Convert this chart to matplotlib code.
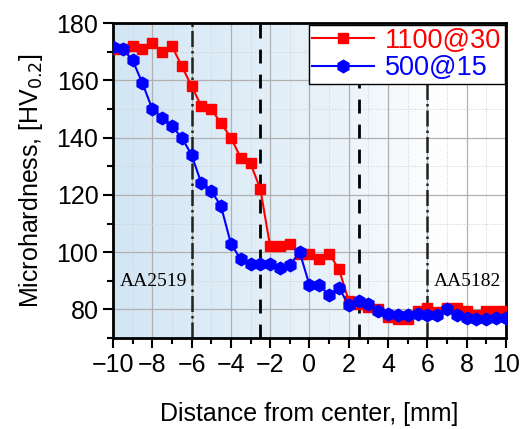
import numpy as np
import matplotlib
matplotlib.use("Agg")
import matplotlib.pyplot as plt
from matplotlib.colors import LinearSegmentedColormap
from matplotlib.ticker import MultipleLocator

distance = [-10, -9.5, -9, -8.5, -8, -7.5, -7, -6.5, -6, -5.5, -5, -4.5, -4, -3.5, -3,
            -2.5, -2, -1.5, -1, -0.5, 0, 0.5, 1, 1.5, 2, 2.5, 3, 3.5, 4, 4.5, 5,
            5.5, 6, 6.5, 7, 7.5, 8, 8.5, 9, 9.5, 10]
hv_1100_30 = [171, 171, 172, 171, 173, 170, 172, 165, 158, 151, 150, 145, 140, 133, 131,
              122, 102, 102, 103, 99.5, 99.5, 97.5, 99.5, 94, 83, 82, 81, 80, 77.5, 76.5, 76.5,
              79.5, 80.5, 79, 80.5, 80.5, 79.5, 78, 79.5, 79.5, 79.5]
hv_500_15 = [171.5, 171, 167, 159, 150, 147, 144, 140, 134, 124, 121.5, 116, 103, 97.5, 96,
             96, 96, 94.5, 95.5, 100, 88.5, 88.5, 85, 87.5, 81.5, 83, 82, 79.5, 78.5, 78, 78,
             78.5, 78, 78, 80, 78, 77, 76.5, 76.5, 77, 77]
series_labels = ["1100@30", "500@15"]
material_labels = ["AA2519", "AA5182"]
xticks = [-10, -8, -6, -4, -2, 0, 2, 4, 6, 8, 10]
yticks = [80, 100, 120, 140, 160, 180]

plt.rcParams['font.family'] = ['Liberation Sans', 'DejaVu Sans']

fig = plt.figure(figsize=(5.2, 4.29), dpi=100)
ax = fig.add_axes([0.2173, 0.212, 0.7557, 0.734])

# background gradient
cmap = LinearSegmentedColormap.from_list("bg", [(0.0, "#d3e6f4"), (0.55, "#e8f2fa"), (0.85, "#ffffff"), (1.0, "#ffffff")])
grad = np.linspace(0, 1, 256).reshape(1, -1)
ax.imshow(grad, extent=[-10, 10, 70, 180], aspect='auto', cmap=cmap, zorder=0)

ax.set_xlim(-10, 10)
ax.set_ylim(70, 180)
ax.set_xticks(xticks)
ax.set_yticks(yticks)
ax.xaxis.set_minor_locator(MultipleLocator(1))
ax.yaxis.set_minor_locator(MultipleLocator(10))
ax.grid(which='major', color='#b0b0b0', linewidth=0.9, zorder=1)
ax.grid(which='minor', color='#d0d0d0', linewidth=0.7, linestyle=':', zorder=1)
ax.set_axisbelow(True)

for xv in (-6, 6):
    ax.axvline(xv, color='#222222', linestyle='-.', linewidth=1.8, zorder=2)
for xv in (-2.5, 2.5):
    ax.axvline(xv, color='black', linestyle=(0, (5, 4)), linewidth=2, zorder=2)

ax.plot(distance, hv_1100_30, color='#ff0000', marker='s', markersize=7.5, linewidth=1.5,
        label=series_labels[0], zorder=3)
ax.plot(distance, hv_500_15, color='#0000ff', marker='h', markersize=9, linewidth=1.5,
        label=series_labels[1], zorder=4)

ax.text(-9.65, 89.8, material_labels[0], family=['Liberation Serif'], fontsize=14,
        va='center', ha='left', zorder=5)
ax.text(6.35, 89.8, material_labels[1], family=['Liberation Serif'], fontsize=14,
        va='center', ha='left', zorder=5)

leg = ax.legend(loc='upper right', fontsize=19.5, frameon=True, fancybox=False,
                edgecolor='black', framealpha=1, handlelength=2.3, borderpad=0.12,
                labelspacing=0.05, handletextpad=0.4, borderaxespad=0.05)
leg.get_frame().set_linewidth(1.0)
for txt, c in zip(leg.get_texts(), ['#ff0000', '#0000ff']):
    txt.set_color(c)

ax.tick_params(which='major', direction='out', length=7, width=1.5, labelsize=18)
ax.tick_params(which='minor', direction='out', length=4, width=1.5)
for sp in ax.spines.values():
    sp.set_linewidth(2)

ax.set_xlabel("Distance from center, [mm]", fontsize=18, labelpad=18)
ax.set_ylabel("Microhardness, [HV$_{0.2}$]", fontsize=18, labelpad=8)

fig.savefig("out.png", dpi=100)
